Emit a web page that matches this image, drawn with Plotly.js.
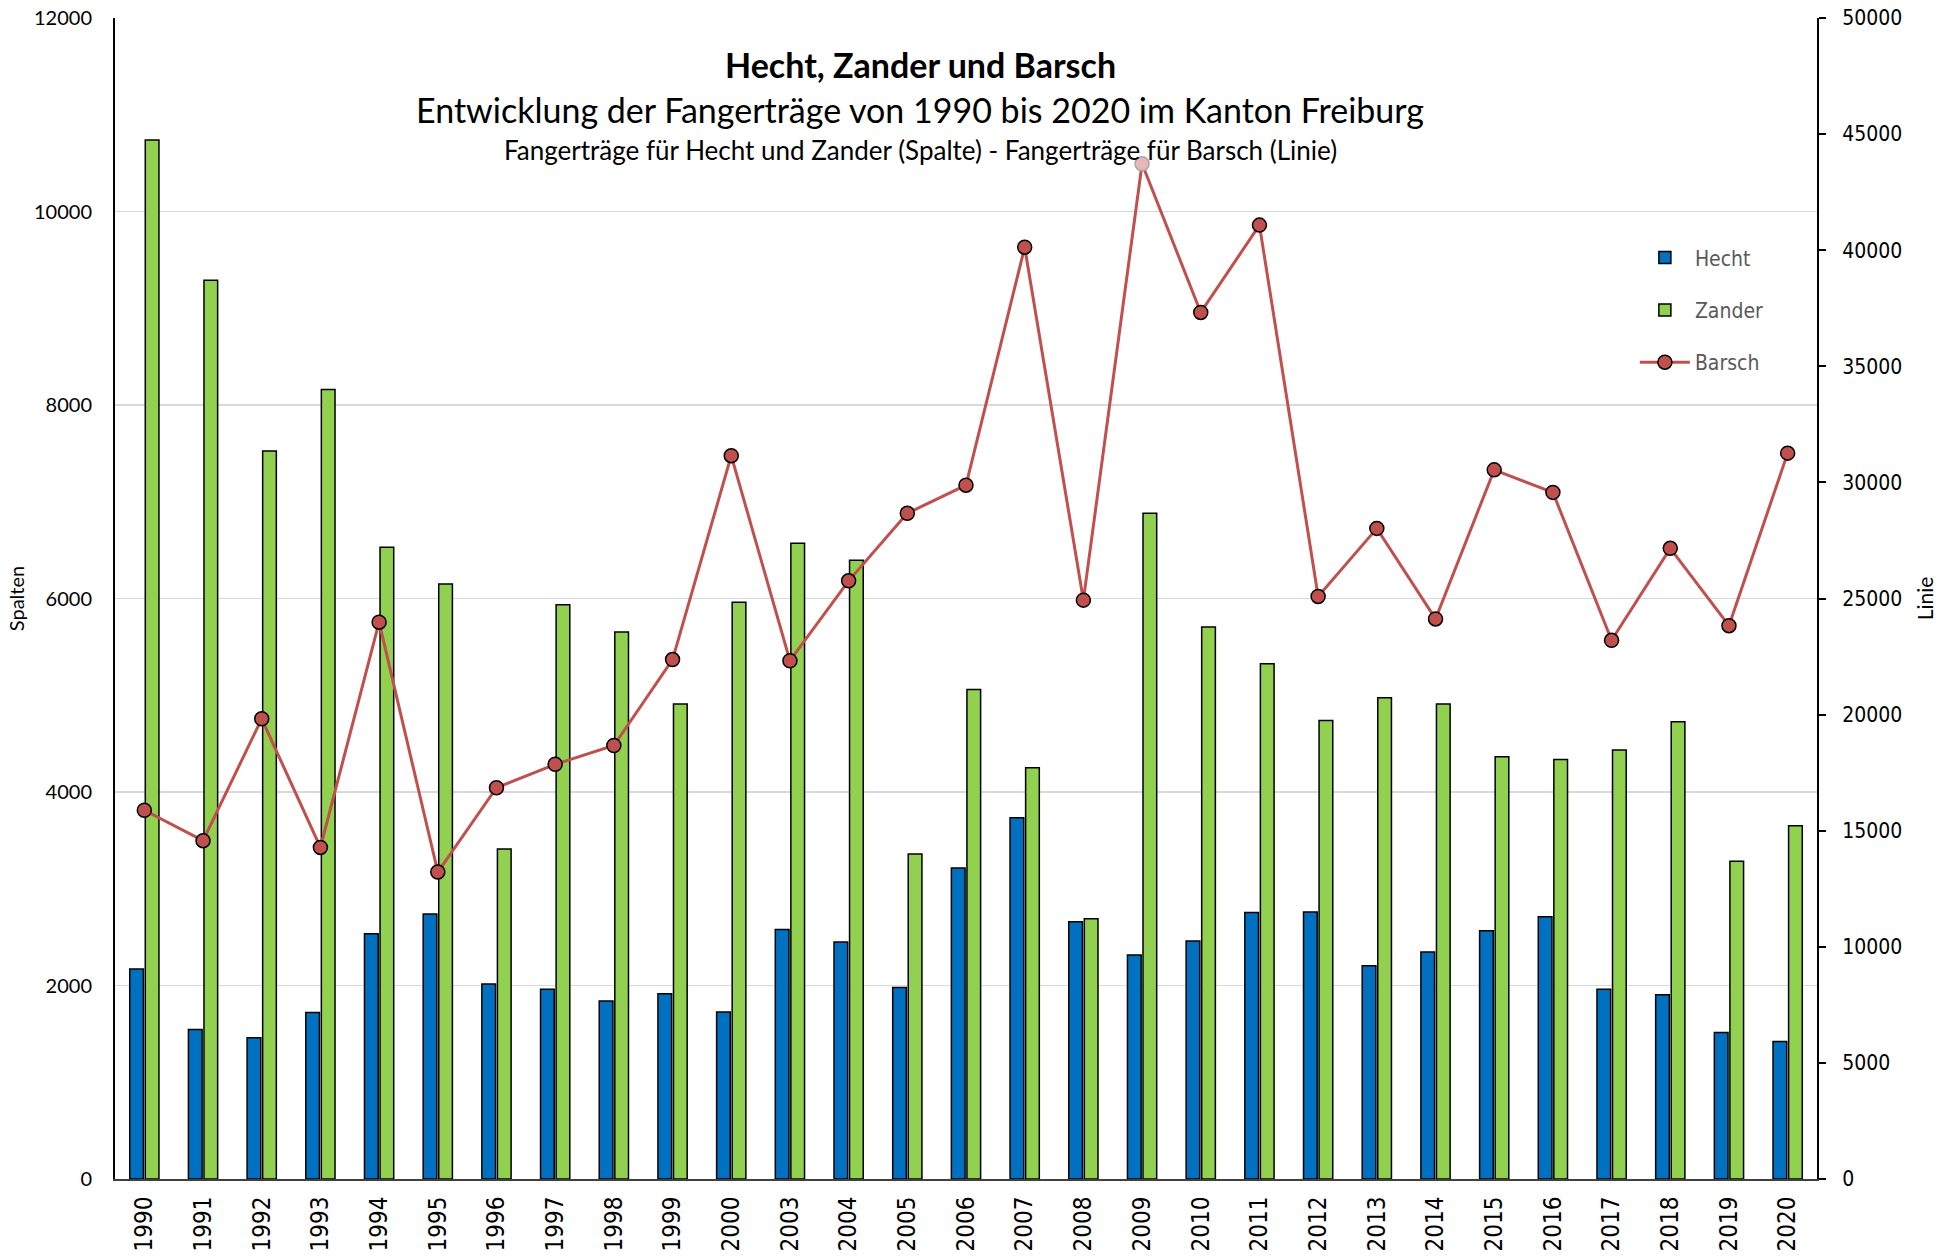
<!DOCTYPE html>
<html>
<head>
<meta charset="utf-8">
<script src="https://cdn.plot.ly/plotly-3.0.1.min.js"></script>
<style>
  html, body { margin: 0; padding: 0; background: #fff; }
  #chart { width: 1941px; height: 1257px; }
</style>
</head>
<body>
<div id="chart"></div>
<script>
const years = ['1990','1991','1992','1993','1994','1995','1996','1997','1998','1999','2000',
  '2003','2004','2005','2006','2007','2008','2009','2010','2011','2012','2013','2014','2015',
  '2016','2017','2018','2019','2020'];
const hecht = [2170, 1545, 1460, 1720, 2535, 2740, 2015, 1960, 1840, 1915, 1725,
  2580, 2450, 1980, 3215, 3735, 2660, 2315, 2460, 2755, 2760, 2205, 2345, 2565,
  2710, 1960, 1905, 1515, 1420];
const zander = [10740, 9290, 7525, 8160, 6530, 6150, 3410, 5935, 5655, 4910, 5960,
  6570, 6395, 3360, 5060, 4250, 2690, 6880, 5705, 5325, 4740, 4975, 4910, 4365,
  4335, 4435, 4725, 3285, 3650];
const barsch = [15880, 14570, 19820, 14280, 23980, 13220, 16850, 17860, 18670, 22370, 31150,
  22320, 25760, 28670, 29880, 40130, 24930, 43720, 37320, 41080, 25090, 28020, 24120, 30540,
  29570, 23200, 27160, 23830, 31260];
const highlightYear = '2009';

const leftTicks = [0, 2000, 4000, 6000, 8000, 10000, 12000];
const rightTicks = [0, 5000, 10000, 15000, 20000, 25000, 30000, 35000, 40000, 45000, 50000];

const titleMain = 'Hecht, Zander und Barsch';
const titleSub1 = 'Entwicklung der Fangerträge von 1990 bis 2020 im Kanton Freiburg';
const titleSub2 = 'Fangerträge für Hecht und Zander (Spalte) - Fangerträge für Barsch (Linie)';

const LINE_RED = '#C0504D';
const markerColors = years.map(y => y === highlightYear ? '#E6B9B8' : LINE_RED);
const markerLines = years.map(y => y === highlightYear ? '#A6A6A6' : '#000000');

const calibriLike = 'Lato, "Open Sans", sans-serif';
const tahomaLike = '"DejaVu Sans Condensed", "DejaVu Sans", sans-serif';

const traces = [
  {
    type: 'bar', name: 'Hecht', x: years, y: hecht, yaxis: 'y',
    marker: { color: '#0070C0', line: { color: '#000000', width: 1.5 } },
    legendgroup: 'a'
  },
  {
    type: 'bar', name: 'Zander', x: years, y: zander, yaxis: 'y',
    marker: { color: '#92D050', line: { color: '#000000', width: 1.5 } },
    legendgroup: 'b'
  },
  {
    type: 'scatter', mode: 'lines+markers', name: 'Barsch', x: years, y: barsch, yaxis: 'y2',
    line: { color: LINE_RED, width: 3 },
    marker: { symbol: 'circle', size: 14, color: markerColors, line: { color: markerLines, width: 1.5 } },
    legendgroup: 'c'
  }
];

const layout = {
  width: 1941, height: 1257,
  margin: { l: 115, r: 124, t: 18, b: 78, pad: 0 },
  paper_bgcolor: '#ffffff', plot_bgcolor: '#ffffff',
  barmode: 'group', bargap: 0.47, bargroupgap: 0.12,
  showlegend: true,
  legend: {
    x: 0.893, y: 0.811, xanchor: 'left', yanchor: 'top',
    bgcolor: 'rgba(0,0,0,0)', borderwidth: 0,
    font: { family: tahomaLike, size: 21, color: '#595959' },
    itemwidth: 50, tracegroupgap: 22, traceorder: 'grouped'
  },
  xaxis: {
    type: 'category', range: [-0.5, years.length - 0.5],
    tickvals: years, ticktext: years,
    tickangle: -90, ticks: '', showgrid: false, automargin: false,
    showline: true, linecolor: '#404040', linewidth: 2,
    tickfont: { family: tahomaLike, size: 24, color: '#000' },
    ticklabelstandoff: 6
  },
  yaxis: {
    range: [0, 12000], tickvals: leftTicks, ticktext: leftTicks.map(String),
    showgrid: true, gridcolor: '#D9D9D9', gridwidth: 1.5,
    showline: true, linecolor: '#000000', linewidth: 2, ticks: '', zeroline: false,
    tickfont: { family: calibriLike, size: 20, color: '#000' },
    ticklabelstandoff: 17, automargin: false,
    title: { text: 'Spalten', font: { family: calibriLike, size: 20, color: '#000' }, standoff: 4 }
  },
  yaxis2: {
    range: [0, 50000], overlaying: 'y', side: 'right',
    tickvals: rightTicks, ticktext: rightTicks.map(String),
    showgrid: false, zeroline: false,
    showline: true, linecolor: '#000000', linewidth: 2,
    ticks: 'outside', ticklen: 7, tickwidth: 2, tickcolor: '#000',
    tickfont: { family: tahomaLike, size: 21, color: '#000' },
    ticklabelstandoff: 12, automargin: false,
    title: { text: 'Linie', font: { family: calibriLike, size: 21, color: '#000' }, standoff: 17 }
  },
  annotations: [
    { text: '<b>' + titleMain + '</b>', xref: 'paper', yref: 'paper', x: 0.473, y: 0.960,
      xanchor: 'center', yanchor: 'middle', showarrow: false,
      font: { family: calibriLike, size: 34, color: '#000' } },
    { text: titleSub1, xref: 'paper', yref: 'paper', x: 0.473, y: 0.921,
      xanchor: 'center', yanchor: 'middle', showarrow: false,
      font: { family: calibriLike, size: 34, color: '#000' } },
    { text: titleSub2, xref: 'paper', yref: 'paper', x: 0.473, y: 0.886,
      xanchor: 'center', yanchor: 'middle', showarrow: false,
      font: { family: calibriLike, size: 26, color: '#000' } }
  ]
};

Plotly.newPlot('chart', traces, layout, { displayModeBar: false, staticPlot: true });
</script>
</body>
</html>
